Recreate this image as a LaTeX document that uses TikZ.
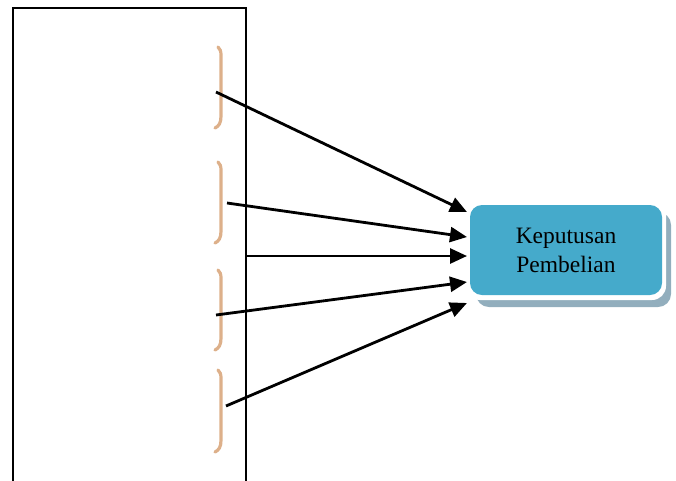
\documentclass[tikz,border=0pt]{standalone}
\usepackage{fontspec}
\setmainfont{Liberation Serif}
\usetikzlibrary{arrows.meta}
\definecolor{boxblue}{HTML}{45AACB}
\definecolor{shadowc}{HTML}{92AEBD}
\definecolor{bracec}{HTML}{DDB08A}
\tikzset{
  conn/.style={line width=2.8pt, -{Triangle[length=17pt,width=15pt]}},
  bracepath/.style={draw=bracec, line width=3.2pt, line cap=round},
}
\begin{document}
\begin{tikzpicture}[x=1pt,y=-1pt]
\useasboundingbox (0,0) rectangle (676,480);
% frame
\draw[line width=2.2pt] (13,482) -- (13,8) -- (246,8) -- (246,482);
% braces
\foreach \t/\b in {47/128, 162/243, 270/350, 370/452}{
  \draw[bracepath] (218,\t) .. controls (220,\t+2) and (221,\t+4) .. (221,\t+8)
     -- (221,\b-12) .. controls (221,\b-5) and (219,\b-2) .. (215,\b);
}
% target box
\fill[shadowc, rounded corners=13pt] (476,212) rectangle (671,307);
\fill[white, rounded corners=14pt] (466,201) rectangle (666,300);
\node[fill=boxblue, rounded corners=12pt, minimum width=192pt, minimum height=90pt,
      inner sep=0pt, align=center, font=\fontsize{23.5}{29}\selectfont]
      (box) at (566,250) {Keputusan\\Pembelian};
\coordinate (s1) at (216,92);
\coordinate (s2) at (227,203);
\coordinate (s3) at (247,256);
\coordinate (s4) at (216,315);
\coordinate (s5) at (226,406);
\coordinate (e1) at (467,212);
\coordinate (e2) at (467,237);
\coordinate (e3) at (467,256);
\coordinate (e4) at (467,282);
\coordinate (e5) at (467,303);
\foreach \i in {1,...,5}{\draw[conn] (s\i) -- (e\i);}
\end{tikzpicture}
\end{document}
